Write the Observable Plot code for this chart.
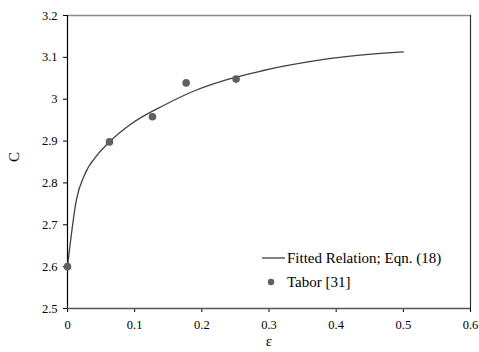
<!DOCTYPE html>
<html>
<head>
<meta charset="utf-8">
<script src="https://cdn.jsdelivr.net/npm/d3@7"></script>
<script src="https://cdn.jsdelivr.net/npm/@observablehq/plot@0.6"></script>
<style>
  html, body { margin: 0; padding: 0; background: #fff; }
  #wrap { position: relative; width: 479px; height: 352px; font-family: "Liberation Serif", "DejaVu Serif", serif; }
  #wrap svg text { font-family: "Liberation Serif", "DejaVu Serif", serif !important; }
  .leg { position: absolute; display: flex; align-items: center; height: 20px; font-size: 15px; color: #000; white-space: nowrap; font-family: "Liberation Serif", "DejaVu Serif", serif; }
  .leg svg { display: block; }
</style>
</head>
<body>
<div id="wrap"></div>
<script>
// Fitted relation (Eqn. 18)
const fitEps = [0, 0.0134, 0.025, 0.045, 0.0625, 0.094, 0.143, 0.192, 0.240, 0.290, 0.322, 0.372, 0.421, 0.471, 0.5];
const fitC   = [2.6, 2.761, 2.818, 2.868, 2.898, 2.940, 2.985, 3.022, 3.048, 3.068, 3.079, 3.093, 3.103, 3.110, 3.113];
// Tabor [31] data points
const taborEps = [0, 0.0625, 0.1265, 0.1767, 0.251];
const taborC   = [2.6, 2.898, 2.958, 3.039, 3.048];
// Tick values
const xTicks = [0, 0.1, 0.2, 0.3, 0.4, 0.5, 0.6];
const yTicks = [2.5, 2.6, 2.7, 2.8, 2.9, 3, 3.1, 3.2];
const xLabel = "ε";
const yLabel = "C";
const legendLabels = ["Fitted Relation; Eqn. (18)", "Tabor [31]"];

const fit = fitEps.map((e, i) => ({eps: e, C: fitC[i]}));
const tabor = taborEps.map((e, i) => ({eps: e, C: taborC[i]}));

const serif = "'Liberation Serif', 'DejaVu Serif', serif";

const chart = Plot.plot({
  width: 479,
  height: 352,
  marginLeft: 67,
  marginRight: 9,
  marginTop: 15,
  marginBottom: 44,
  style: {fontFamily: serif, fontSize: "12.5px", color: "#000", background: "#fff"},
  x: {domain: [0, 0.6]},
  y: {domain: [2.5, 3.2]},
  marks: [
    Plot.ruleY([3.2], {stroke: "#8a8a8a", strokeWidth: 1.5}),
    Plot.ruleX([0.6], {stroke: "#333", strokeWidth: 1.2}),
    Plot.axisX({ticks: xTicks, tickSize: 4, tickPadding: 8, tickFormat: d => String(d), label: null, stroke: "#000", fontFamily: serif}),
    Plot.axisY({ticks: yTicks, tickSize: 4, tickPadding: 6, tickFormat: d => String(d), label: null, stroke: "#000", fontFamily: serif}),
    Plot.ruleX([0], {stroke: "#000", strokeWidth: 1.2}),
    Plot.ruleY([2.5], {stroke: "#555", strokeWidth: 1.5}),
    Plot.line(fit, {x: "eps", y: "C", stroke: "#404040", strokeWidth: 1.3, curve: "monotone-x"}),
    Plot.dot(tabor, {x: "eps", y: "C", r: 3.8, fill: "#5f5f5f", stroke: null}),
    Plot.text([xLabel], {frameAnchor: "bottom", dy: 37, fontSize: 15, fontFamily: serif, text: d => d}),
    Plot.text([yLabel], {frameAnchor: "left", dx: -53, rotate: -90, fontSize: 15, fontFamily: serif, text: d => d})
  ]
});

const wrap = document.getElementById("wrap");
wrap.appendChild(chart);

// Legend (inside the plot area, lower right)
const row1 = document.createElement("div");
row1.className = "leg";
row1.style.left = "262px";
row1.style.top = "248px";
row1.innerHTML = `<svg width="24" height="20"><line x1="0" x2="23" y1="10" y2="10" stroke="#404040" stroke-width="1.3"/></svg><span style="margin-left:1px">${legendLabels[0]}</span>`;
wrap.appendChild(row1);

const row2 = document.createElement("div");
row2.className = "leg";
row2.style.left = "262px";
row2.style.top = "272px";
row2.innerHTML = `<svg width="24" height="20"><circle cx="9" cy="10" r="3.2" fill="#5f5f5f"/></svg><span style="margin-left:1px">${legendLabels[1]}</span>`;
wrap.appendChild(row2);
</script>
</body>
</html>
